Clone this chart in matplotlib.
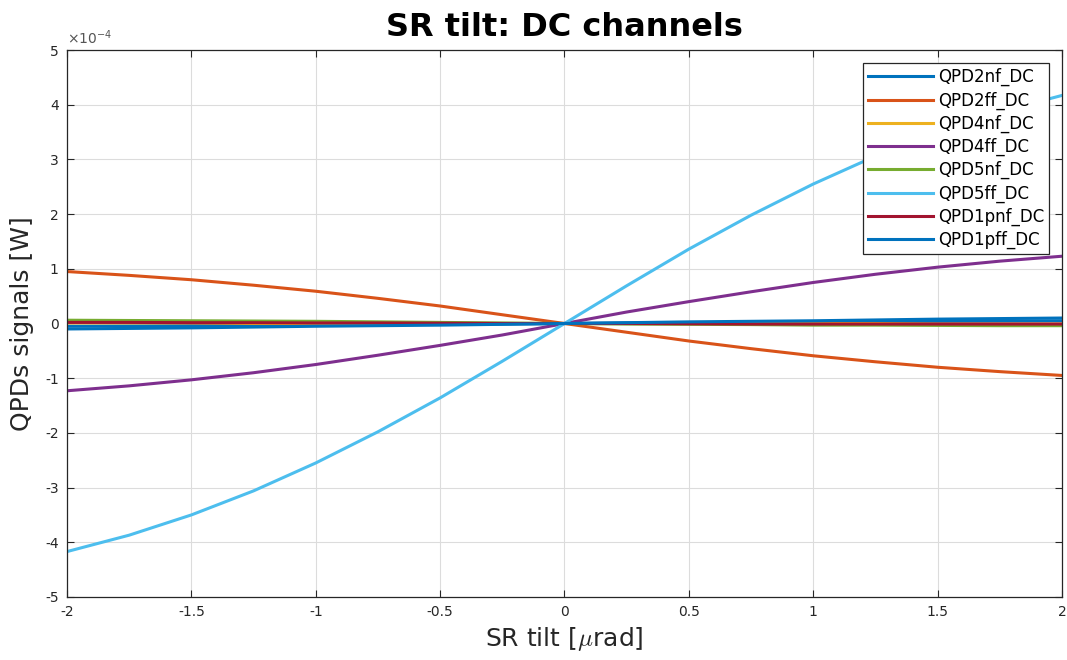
import matplotlib
matplotlib.use("Agg")
import matplotlib.pyplot as plt
import numpy as np

# SR tilt samples [urad] and QPD DC signals [1e-4 W]
tilt = [-2.0, -1.75, -1.5, -1.25, -1.0, -0.75, -0.5, -0.25, 0.0,
        0.25, 0.5, 0.75, 1.0, 1.25, 1.5, 1.75, 2.0]

qpd2nf = [-0.05, -0.045, -0.04, -0.035, -0.03, -0.02, -0.015, -0.01, 0.0,
          0.01, 0.015, 0.02, 0.03, 0.035, 0.04, 0.045, 0.05]
qpd2ff = [0.95, 0.88, 0.80, 0.70, 0.59, 0.46, 0.32, 0.16, 0.0,
          -0.16, -0.32, -0.46, -0.59, -0.70, -0.80, -0.88, -0.95]
qpd4nf = [0.01, 0.01, 0.01, 0.0, 0.0, 0.0, 0.0, 0.0, 0.0,
          0.0, 0.0, 0.0, 0.0, 0.0, -0.01, -0.01, -0.01]
qpd4ff = [-1.23, -1.14, -1.03, -0.90, -0.75, -0.58, -0.40, -0.21, 0.0,
          0.21, 0.40, 0.58, 0.75, 0.90, 1.03, 1.14, 1.23]
qpd5nf = [0.06, 0.055, 0.05, 0.045, 0.04, 0.03, 0.02, 0.01, 0.0,
          -0.01, -0.015, -0.02, -0.03, -0.03, -0.035, -0.04, -0.04]
qpd5ff = [-4.17, -3.87, -3.50, -3.06, -2.55, -1.98, -1.36, -0.69, 0.0,
          0.69, 1.36, 1.98, 2.55, 3.06, 3.50, 3.87, 4.17]
qpd1pnf = [0.02, 0.02, 0.015, 0.015, 0.01, 0.01, 0.005, 0.0, 0.0,
           0.0, -0.005, -0.01, -0.01, -0.01, -0.01, -0.01, -0.01]
qpd1pff = [-0.1, -0.09, -0.08, -0.065, -0.05, -0.04, -0.03, -0.015, 0.0,
           0.015, 0.03, 0.04, 0.05, 0.065, 0.08, 0.09, 0.1]

names = ["QPD2nf_DC", "QPD2ff_DC", "QPD4nf_DC", "QPD4ff_DC",
         "QPD5nf_DC", "QPD5ff_DC", "QPD1pnf_DC", "QPD1pff_DC"]
series = [qpd2nf, qpd2ff, qpd4nf, qpd4ff, qpd5nf, qpd5ff, qpd1pnf, qpd1pff]
colors = ["#0072BD", "#D95319", "#EDB120", "#7E2F8E",
          "#77AC30", "#4DBEEE", "#A2142F", "#0072BD"]

fig = plt.figure(figsize=(10.67, 6.6), dpi=100)
ax = fig.add_axes([0.0628, 0.0955, 0.9325, 0.8287])

for name, vals, c in zip(names, series, colors):
    ax.plot(tilt, vals, color=c, lw=2.2, label=name)

ax.set_xlim(-2, 2)
ax.set_ylim(-5, 5)
ax.set_xticks(np.arange(-2, 2.01, 0.5))
ax.set_xticklabels(["-2", "-1.5", "-1", "-0.5", "0", "0.5", "1", "1.5", "2"])
ax.set_yticks(np.arange(-5, 6, 1))
ax.set_yticklabels([str(v) for v in range(-5, 6)])

ax.grid(True, color="#dcdcdc", lw=0.8)
ax.set_axisbelow(True)
ax.tick_params(direction="in", top=True, right=True, length=5,
               labelsize=10, colors="#262626", pad=6)
for s in ax.spines.values():
    s.set_color("#262626")
    s.set_linewidth(0.9)

ax.text(0.0, 1.005, r"$\times10^{-4}$", transform=ax.transAxes,
        fontsize=10, color="#555555", ha="left", va="bottom")

ax.set_xlabel(r"SR tilt [$\mu$rad]", fontsize=18, color="#262626",
              math_fontfamily="cm", labelpad=4)
ax.set_ylabel("QPDs signals [W]", fontsize=18, color="#262626", labelpad=8)
ax.set_title("SR tilt: DC channels", fontsize=23, fontweight="bold", pad=10)

leg = ax.legend(loc="upper right", fontsize=12, frameon=True, fancybox=False,
                edgecolor="#262626", framealpha=1, borderpad=0.3,
                labelspacing=0.3, handlelength=3.9, handletextpad=0.3,
                borderaxespad=0, bbox_to_anchor=(0.987, 0.976))
leg.get_frame().set_linewidth(0.9)

fig.savefig("out.png", dpi=100)
